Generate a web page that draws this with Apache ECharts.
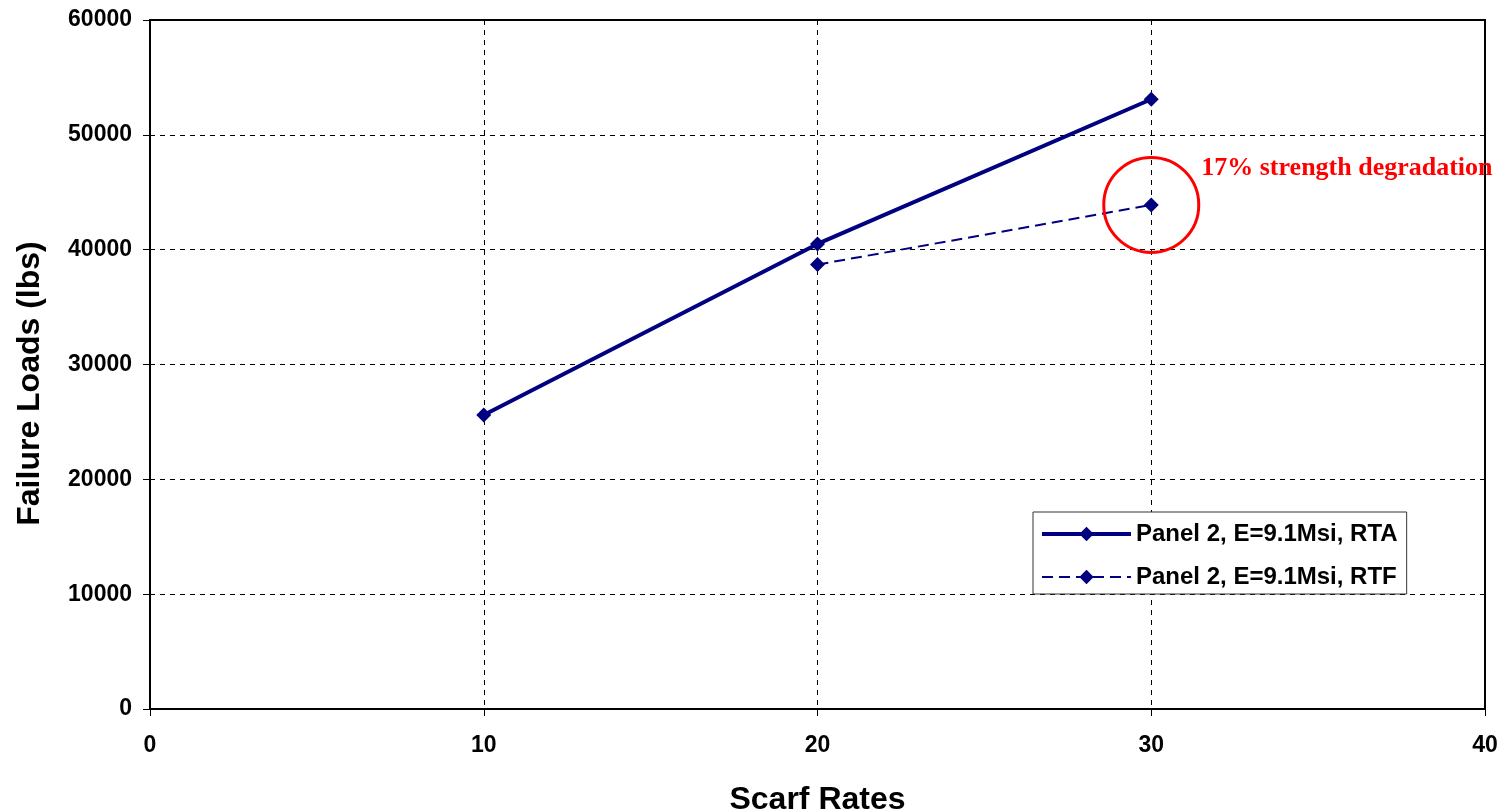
<!DOCTYPE html>
<html>
<head>
<meta charset="utf-8">
<script src="https://cdn.jsdelivr.net/npm/echarts@6/dist/echarts.min.js"></script>
<style>
  html, body { margin: 0; padding: 0; background: #fff; }
  #chart { width: 1501px; height: 812px; }
</style>
</head>
<body>
<div id="chart"></div>
<script>
/* Failure loads vs scarf rates */
var rtaName = 'Panel 2, E=9.1Msi, RTA';
var rtfName = 'Panel 2, E=9.1Msi, RTF';
var rtaRates = [10, 20, 30];
var rtaLoads = [25600, 40500, 53100];
var rtfRates = [20, 30];
var rtfLoads = [38700, 43900];
var xTicks = [0, 10, 20, 30, 40];
var yTicks = [0, 10000, 20000, 30000, 40000, 50000, 60000];
var note = '17% strength degradation';

(function(){
	var myChart = echarts.init(document.getElementById('chart'));
	var navy = '#000080';
	var pairs = function(xs, ys){
		return xs.map(function(x, i){ return [x, ys[i]]; });
	};
	var tickFont = { fontFamily: 'Liberation Sans', fontWeight: 'bold', fontSize: 23, color: '#000' };
	var nameFont = { fontFamily: 'Liberation Sans', fontWeight: 'bold', fontSize: 32, color: '#000' };
	var option = {
		animation: false,
		grid: {
			left: 150, top: 20, right: 16, bottom: 103,
			outerBoundsMode: 'none',
			show: true, borderColor: '#000', borderWidth: 2
		},
		legend: {
			orient: 'vertical',
			left: 1033, top: 512,
			padding: [10, 9, 5, 7],
			itemGap: 19,
			itemWidth: 89, itemHeight: 18,
			backgroundColor: '#fff',
			borderColor: '#333', borderWidth: 1,
			lineStyle: { width: 'inherit' },
			textStyle: { fontFamily: 'Liberation Sans', fontWeight: 'bold', fontSize: 24, color: '#000' },
			data: [rtaName, rtfName]
		},
		xAxis: {
			type: 'value',
			min: xTicks[0], max: xTicks[xTicks.length - 1], interval: 10,
			name: 'Scarf Rates', nameLocation: 'middle', nameGap: 75,
			nameTextStyle: nameFont,
			axisLine: { lineStyle: { color: '#000', width: 2 } },
			axisTick: { show: true, length: 7, lineStyle: { color: '#000' } },
			axisLabel: Object.assign({ margin: 25, formatter: function(v){ return String(v); } }, tickFont),
			splitLine: { show: true, lineStyle: { color: '#000', type: [5, 5], width: 1 } }
		},
		yAxis: {
			type: 'value',
			min: yTicks[0], max: yTicks[yTicks.length - 1], interval: 10000,
			name: 'Failure Loads (lbs)', nameLocation: 'middle', nameGap: 104,
			nameTextStyle: Object.assign({ padding: [0, 38, 0, 0] }, nameFont),
			axisLine: { show: true, lineStyle: { color: '#000', width: 2 } },
			axisTick: { show: true, length: 7, lineStyle: { color: '#000' } },
			axisLabel: Object.assign({ margin: 18, formatter: function(v){ return String(v); } }, tickFont),
			splitLine: { show: true, lineStyle: { color: '#000', type: [5, 5], width: 1 } }
		},
		series: [
			{
				name: rtaName,
				type: 'line',
				symbol: 'diamond', symbolSize: 15,
				itemStyle: { color: navy },
				lineStyle: { color: navy, width: 4 },
				data: pairs(rtaRates, rtaLoads)
			},
			{
				name: rtfName,
				type: 'line',
				symbol: 'diamond', symbolSize: 15,
				itemStyle: { color: navy },
				lineStyle: { color: navy, width: 2, type: [11, 6] },
				markPoint: {
					symbol: 'circle', symbolSize: 95,
					itemStyle: { color: 'rgba(0,0,0,0)', borderColor: '#ff0000', borderWidth: 3 },
					label: {
						show: true, position: 'right', distance: 1, offset: [0, -37],
						formatter: note,
						fontFamily: 'Liberation Serif', fontWeight: 'bold', fontSize: 26, color: '#ff0000'
					},
					data: [{ type: 'max' }]
				},
				data: pairs(rtfRates, rtfLoads)
			}
		]
	};
	myChart.setOption(option);
})();
</script>
</body>
</html>
